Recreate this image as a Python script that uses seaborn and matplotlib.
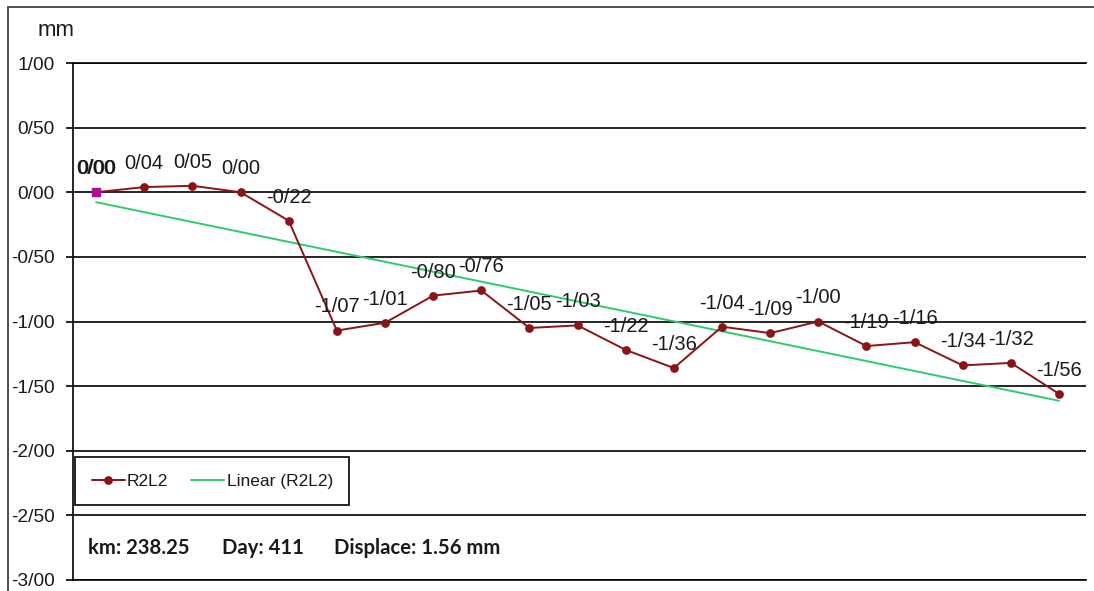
import numpy as np
import pandas as pd
import matplotlib
matplotlib.use("Agg")
import matplotlib.pyplot as plt
from matplotlib.patches import Rectangle
import seaborn as sns

# Survey readings (mm) for point R2L2, one per survey epoch
readings = [0.00, 0.04, 0.05, 0.00, -0.22, -1.07, -1.01, -0.80, -0.76, -1.05,
            -1.03, -1.22, -1.36, -1.04, -1.09, -1.00, -1.19, -1.16, -1.34, -1.32, -1.56]
epochs = list(range(1, len(readings) + 1))
start_value = [0.00]
y_ticks = [1.0, 0.5, 0.0, -0.5, -1.0, -1.5, -2.0, -2.5, -3.0]
info_texts = ["km: 238.25", "Day: 411", "Displace: 1.56 mm"]

series_color = "#8b1414"
trend_color = "#2fcc6a"


def slash_fmt(v):
    return f"{v:.2f}".replace(".", "/")


sns.set_theme(style="white")
plt.rcParams["font.family"] = ["Liberation Sans", "DejaVu Sans"]

W, H = 1094, 591
fig = plt.figure(figsize=(W / 100, H / 100), dpi=100)
ax = fig.add_axes([73 / W, 1 - 580 / H, (1086 - 73) / W, (580 - 63) / H])

df = pd.DataFrame({"epoch": epochs, "disp": readings})

# linear trend forced through the origin (zero intercept)
x_arr = np.asarray(epochs, dtype=float)
y_arr = np.asarray(readings, dtype=float)
slope = float(np.dot(x_arr, y_arr) / np.dot(x_arr, x_arr))
trend_df = pd.DataFrame({"epoch": epochs, "trend": slope * x_arr})

sns.lineplot(data=trend_df, x="epoch", y="trend", ax=ax, color=trend_color, lw=1.4, zorder=3)
trend_line = ax.lines[-1]
sns.lineplot(data=df, x="epoch", y="disp", ax=ax, color=series_color, lw=1.4,
             marker="o", markersize=6.3, markeredgewidth=0, zorder=4)
series_line = ax.lines[-1]
ax.plot([epochs[0]] * len(start_value), start_value, ls="none", marker="s", markersize=6,
        color="#b01090", zorder=5)

# value labels above each point
for x, v in zip(epochs, readings):
    ax.annotate(slash_fmt(v), (x, v), xytext=(0, 17), textcoords="offset points",
                ha="center", va="center", fontsize=14.5, color="#1a1a1a", zorder=6)
for v in start_value:
    ax.annotate(slash_fmt(v), (epochs[0], v), xytext=(0.5, 17.3), textcoords="offset points",
                ha="center", va="center", fontsize=14.5, color="#1a1a1a", zorder=6)

ax.set_xlim(0.52, 21.56)
ax.set_ylim(-3.0, 1.0)
ax.set_yticks(y_ticks)
ax.set_yticklabels([slash_fmt(v) for v in y_ticks])
ax.set_xticks([])
ax.set_xlabel("")
ax.set_ylabel("")
ax.tick_params(axis="y", direction="out", length=5, width=1.2, color="black",
               pad=8, labelsize=13.8, labelcolor="#1a1a1a", left=True)
ax.grid(axis="y", color="black", lw=1.2, zorder=1)
ax.grid(axis="x", visible=False)
for side in ["left", "top", "bottom"]:
    ax.spines[side].set_visible(True)
    ax.spines[side].set_color("black")
    ax.spines[side].set_linewidth(1.2)
ax.spines["right"].set_visible(False)

leg = ax.legend([series_line, trend_line], ["R2L2", "Linear (R2L2)"],
                loc="upper left", bbox_to_anchor=(0.002, 0.238), borderaxespad=0,
                ncol=2, fontsize=12.5, frameon=True, fancybox=False, framealpha=1,
                edgecolor="black", handlelength=1.9, handletextpad=0.15,
                columnspacing=1.3, borderpad=0.95)
leg.get_frame().set_linewidth(1.2)
for t in leg.get_texts():
    t.set_color("#1a1a1a")

# unit label
fig.text(56 / W, 1 - 30 / H, "mm", ha="center", va="center", fontsize=16, color="#1a1a1a")

# station info line
for xp, s in zip([88, 222, 334], info_texts):
    fig.text(xp / W, 1 - 548 / H, s, ha="left", va="center", fontsize=14.6,
             fontweight="bold", family=["Lato", "DejaVu Sans"], color="#1a1a1a")

# outer chart frame (top and left edges)
fig.add_artist(Rectangle((8 / W, -0.1), 1.2, 1 - 7 / H + 0.1, transform=fig.transFigure,
                         fill=False, edgecolor="#404040", lw=1.3))

fig.savefig("out.png", dpi=100, facecolor="white")
